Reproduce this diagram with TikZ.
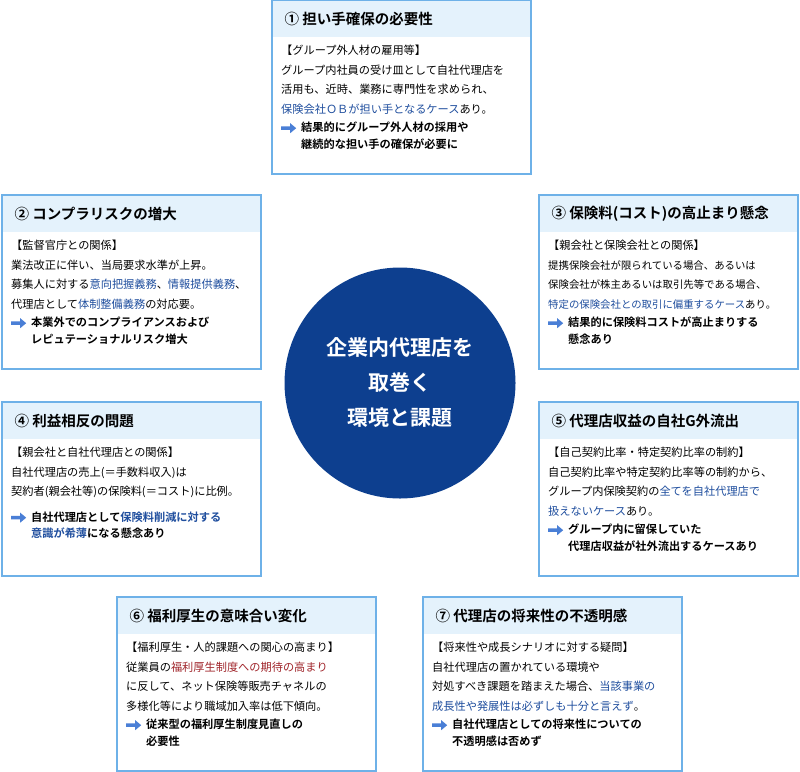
\documentclass[tikz,border=0pt]{standalone}
\usepackage{fontspec}
\setmainfont{Noto Sans CJK JP}[BoldFont={Noto Sans CJK JP Bold}]
\definecolor{bord}{HTML}{6EB1E8}
\definecolor{headf}{HTML}{E4F2FC}
\definecolor{bt}{HTML}{1F4E9E}
\definecolor{rt}{HTML}{A0252B}
\definecolor{circ}{HTML}{0D3F8F}
\definecolor{arrc}{HTML}{4A7FD6}
\newcommand{\bl}[1]{\textcolor{bt}{#1}}
\newcommand{\rd}[1]{\textcolor{rt}{#1}}
\newcommand{\arr}{\tikz[baseline=-3.5pt]{\fill[arrc] (0,-1.8pt)--(9pt,-1.8pt)--(9pt,-5pt)--(15pt,0)--(9pt,5pt)--(9pt,1.8pt)--(0,1.8pt)--cycle;}\hspace{5pt}}
\newcommand{\ind}{\hspace*{20pt}}
\tikzset{
 cardbox/.style={draw=bord,line width=2pt,fill=white},
 headtxt/.style={anchor=west,font=\fontsize{14.5}{17}\selectfont\bfseries},
 bodytxt/.style={anchor=north west,align=left,inner sep=0pt,font=\fontsize{11.2}{19.5}\selectfont},
}
\newcommand{\card}[5]{%
 \path[cardbox] (#2,#3) rectangle ++(259,174);
 \fill[headf] ($(#2,#3)+(1,1)$) rectangle ++(257,36);
 \draw[bord,line width=2pt] (#2,#3) rectangle ++(259,174);
 \node[headtxt] (#1h) at ($(#2,#3)+(9,19)$) {#4};
 \node[bodytxt] (#1b) at ($(#2,#3)+(9,45)$) {#5};
}
\usetikzlibrary{calc}
\begin{document}
\begin{tikzpicture}[x=1pt,y=-1pt]
\useasboundingbox (0,0) rectangle (800,771);
\node[circle,fill=circ,minimum size=231pt,inner sep=0pt,align=center,text=white,font=\fontsize{21}{35}\selectfont\bfseries] (c) at (400,383) {企業内代理店を\\取巻く\\環境と課題};
\card{a}{272}{0}{① 担い手確保の必要性}{【グループ外人材の雇用等】\\グループ内社員の受け皿として自社代理店を\\活用も、近時、業務に専門性を求められ、\\\bl{保険会社ＯＢが担い手となるケース}あり。\\[-1pt]\arr\textbf{結果的にグループ外人材の採用や}\\[-3pt]\ind\textbf{継続的な担い手の確保が必要に}}
\card{b}{2}{195}{② コンプラリスクの増大}{【監督官庁との関係】\\業法改正に伴い、当局要求水準が上昇。\\募集人に対する\bl{意向把握義務}、\bl{情報提供義務}、\\代理店として\bl{体制整備義務}の対応要。\\[-1pt]\arr\textbf{本業外でのコンプライアンスおよび}\\[-3pt]\ind\textbf{レピュテーショナルリスク増大}}
\card{c3}{539}{195}{③ 保険料(コスト)の高止まり懸念}{【親会社と保険会社との関係】\\{\fontsize{10.4}{19.5}\selectfont 提携保険会社が限られている場合、あるいは}\\{\fontsize{10.4}{19.5}\selectfont 保険会社が株主あるいは取引先等である場合、}\\{\fontsize{10.4}{19.5}\selectfont\bl{特定の保険会社との取引に偏重するケース}あり。}\\[-1pt]\arr\textbf{結果的に保険料コストが高止まりする}\\[-3pt]\ind\textbf{懸念あり}}
\card{d}{2}{402}{④ 利益相反の問題}{【親会社と自社代理店との関係】\\自社代理店の売上(＝手数料収入)は\\契約者(親会社等)の保険料(＝コスト)に比例。\\[6pt]\arr\textbf{自社代理店として\bl{保険料削減に対する}}\\[-3pt]\ind\textbf{\bl{意識が希薄}になる懸念あり}}
\card{e}{539}{402}{⑤ 代理店収益の自社G外流出}{【自己契約比率・特定契約比率の制約】\\自己契約比率や特定契約比率等の制約から、\\グループ内保険契約の\bl{全てを自社代理店で}\\\bl{扱えないケース}あり。\\[-1pt]\arr\textbf{グループ内に留保していた}\\[-3pt]\ind\textbf{代理店収益が社外流出するケースあり}}
\card{f}{117}{597}{⑥ 福利厚生の意味合い変化}{【福利厚生・人的課題への関心の高まり】\\従業員の\rd{福利厚生制度への期待の高まり}\\に反して、ネット保険等販売チャネルの\\多様化等により職域加入率は低下傾向。\\[-1pt]\arr\textbf{従来型の福利厚生制度見直しの}\\[-3pt]\ind\textbf{必要性}}
\card{g}{423}{597}{⑦ 代理店の将来性の不透明感}{【将来性や成長シナリオに対する疑問】\\自社代理店の置かれている環境や\\対処すべき課題を踏まえた場合、\bl{当該事業の}\\\bl{成長性や発展性は必ずしも十分と言えず}。\\[-1pt]\arr\textbf{自社代理店としての将来性についての}\\[-3pt]\ind\textbf{不透明感は否めず}}
\end{tikzpicture}
\end{document}
